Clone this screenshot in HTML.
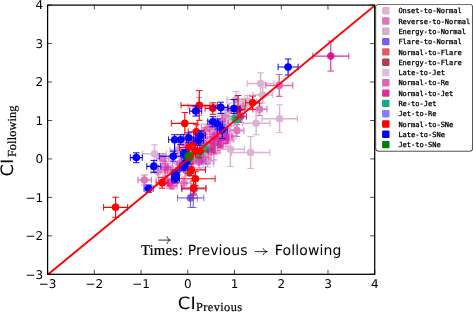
<!DOCTYPE html>
<html><head><meta charset="utf-8"><title>CI Previous vs Following</title>
<style>
html,body{margin:0;padding:0;background:#fff;}
body{width:473px;height:312px;overflow:hidden;}
svg{display:block;text-rendering:geometricPrecision;}
</style></head><body>
<svg width="473" height="312" viewBox="0 0 473 312">
<defs><clipPath id="axclip"><rect x="47.6" y="5.1" width="327.10" height="269.20"/></clipPath></defs>
<rect width="473" height="312" fill="#fff"/>
<g>
<g stroke="rgba(215,30,160,.5)" fill="none"><path d="M188.0 106.5H210.0M199.0 97.5V115.5" stroke-width="1.3"/><path d="M188.0 103.2v6.6M210.0 103.2v6.6M195.7 97.5h6.6M195.7 115.5h6.6" stroke-width="1.05"/><circle cx="199.0" cy="106.5" r="3.8" stroke="none" fill="rgba(215,30,160,.5)"/></g>
<g stroke="rgba(180,90,160,.46)" fill="none"><path d="M227.0 99.5H245.0M236.0 91.5V107.5" stroke-width="1.3"/><path d="M227.0 96.2v6.6M245.0 96.2v6.6M232.7 91.5h6.6M232.7 107.5h6.6" stroke-width="1.05"/><circle cx="236.0" cy="99.5" r="3.8" stroke="none" fill="rgba(180,90,160,.46)"/></g>
<g stroke="rgba(215,30,160,.5)" fill="none"><path d="M201.4 127.4H217.4M209.4 120.4V134.4" stroke-width="1.3"/><path d="M201.4 124.1v6.6M217.4 124.1v6.6M206.1 120.4h6.6M206.1 134.4h6.6" stroke-width="1.05"/><circle cx="209.4" cy="127.4" r="3.8" stroke="none" fill="rgba(215,30,160,.5)"/></g>
<g stroke="rgba(180,75,145,.47)" fill="none"><path d="M198.0 131.0H212.0M205.0 124.0V138.0" stroke-width="1.3"/><path d="M198.0 127.7v6.6M212.0 127.7v6.6M201.7 124.0h6.6M201.7 138.0h6.6" stroke-width="1.05"/><circle cx="205.0" cy="131.0" r="3.8" stroke="none" fill="rgba(180,75,145,.47)"/></g>
<g stroke="rgba(215,10,150,.5)" fill="none"><path d="M216.8 134.1H230.8M223.8 128.1V140.1" stroke-width="1.3"/><path d="M216.8 130.8v6.6M230.8 130.8v6.6M220.5 128.1h6.6M220.5 140.1h6.6" stroke-width="1.05"/><circle cx="223.8" cy="134.1" r="3.8" stroke="none" fill="rgba(215,10,150,.5)"/></g>
<g stroke="rgba(215,10,150,.5)" fill="none"><path d="M210.0 139.0H228.0M219.0 133.0V145.0" stroke-width="1.3"/><path d="M210.0 135.7v6.6M228.0 135.7v6.6M215.7 133.0h6.6M215.7 145.0h6.6" stroke-width="1.05"/><circle cx="219.0" cy="139.0" r="3.8" stroke="none" fill="rgba(215,10,150,.5)"/></g>
<g stroke="rgba(215,30,160,.5)" fill="none"><path d="M218.0 140.0H234.0M226.0 133.0V147.0" stroke-width="1.3"/><path d="M218.0 136.7v6.6M234.0 136.7v6.6M222.7 133.0h6.6M222.7 147.0h6.6" stroke-width="1.05"/><circle cx="226.0" cy="140.0" r="3.8" stroke="none" fill="rgba(215,30,160,.5)"/></g>
<g stroke="rgba(215,10,150,.5)" fill="none"><path d="M207.0 137.0H221.0M214.0 129.0V145.0" stroke-width="1.3"/><path d="M207.0 133.7v6.6M221.0 133.7v6.6M210.7 129.0h6.6M210.7 145.0h6.6" stroke-width="1.05"/><circle cx="214.0" cy="137.0" r="3.8" stroke="none" fill="rgba(215,10,150,.5)"/></g>
<g stroke="rgba(215,30,160,.5)" fill="none"><path d="M224.0 136.0H236.0M230.0 130.0V142.0" stroke-width="1.3"/><path d="M224.0 132.7v6.6M236.0 132.7v6.6M226.7 130.0h6.6M226.7 142.0h6.6" stroke-width="1.05"/><circle cx="230.0" cy="136.0" r="3.8" stroke="none" fill="rgba(215,30,160,.5)"/></g>
<g stroke="rgba(215,30,160,.5)" fill="none"><path d="M210.0 133.0H222.0M216.0 128.0V138.0" stroke-width="1.3"/><path d="M210.0 129.7v6.6M222.0 129.7v6.6M212.7 128.0h6.6M212.7 138.0h6.6" stroke-width="1.05"/><circle cx="216.0" cy="133.0" r="3.8" stroke="none" fill="rgba(215,30,160,.5)"/></g>
<g stroke="rgba(215,10,150,.5)" fill="none"><path d="M214.0 143.5H228.0M221.0 138.5V148.5" stroke-width="1.3"/><path d="M214.0 140.2v6.6M228.0 140.2v6.6M217.7 138.5h6.6M217.7 148.5h6.6" stroke-width="1.05"/><circle cx="221.0" cy="143.5" r="3.8" stroke="none" fill="rgba(215,10,150,.5)"/></g>
<g stroke="rgba(215,30,160,.5)" fill="none"><path d="M222.0 137.5H232.0M227.0 131.5V143.5" stroke-width="1.3"/><path d="M222.0 134.2v6.6M232.0 134.2v6.6M223.7 131.5h6.6M223.7 143.5h6.6" stroke-width="1.05"/><circle cx="227.0" cy="137.5" r="3.8" stroke="none" fill="rgba(215,30,160,.5)"/></g>
<g stroke="rgba(215,30,160,.5)" fill="none"><path d="M206.0 142.0H218.0M212.0 136.0V148.0" stroke-width="1.3"/><path d="M206.0 138.7v6.6M218.0 138.7v6.6M208.7 136.0h6.6M208.7 148.0h6.6" stroke-width="1.05"/><circle cx="212.0" cy="142.0" r="3.8" stroke="none" fill="rgba(215,30,160,.5)"/></g>
<g stroke="rgba(215,10,150,.5)" fill="none"><path d="M213.0 147.0H223.0M218.0 141.0V153.0" stroke-width="1.3"/><path d="M213.0 143.7v6.6M223.0 143.7v6.6M214.7 141.0h6.6M214.7 153.0h6.6" stroke-width="1.05"/><circle cx="218.0" cy="147.0" r="3.8" stroke="none" fill="rgba(215,10,150,.5)"/></g>
<g stroke="rgba(214,0,137,.82)" fill="none"><path d="M234.5 116.5H246.5M240.5 110.5V122.5" stroke-width="1.3"/><path d="M234.5 113.2v6.6M246.5 113.2v6.6M237.2 110.5h6.6M237.2 122.5h6.6" stroke-width="1.05"/><circle cx="240.5" cy="116.5" r="3.8" stroke="none" fill="rgba(214,0,137,.82)"/></g>
<g stroke="rgba(180,90,160,.46)" fill="none"><path d="M221.0 126.0H235.0M228.0 119.0V133.0" stroke-width="1.3"/><path d="M221.0 122.7v6.6M235.0 122.7v6.6M224.7 119.0h6.6M224.7 133.0h6.6" stroke-width="1.05"/><circle cx="228.0" cy="126.0" r="3.8" stroke="none" fill="rgba(180,90,160,.46)"/></g>
<g stroke="rgba(215,30,160,.5)" fill="none"><path d="M203.0 148.0H213.0M208.0 138.0V158.0" stroke-width="1.3"/><path d="M203.0 144.7v6.6M213.0 144.7v6.6M204.7 138.0h6.6M204.7 158.0h6.6" stroke-width="1.05"/><circle cx="208.0" cy="148.0" r="3.8" stroke="none" fill="rgba(215,30,160,.5)"/></g>
<g stroke="rgba(215,10,150,.5)" fill="none"><path d="M206.0 152.0H216.0M211.0 143.0V161.0" stroke-width="1.3"/><path d="M206.0 148.7v6.6M216.0 148.7v6.6M207.7 143.0h6.6M207.7 161.0h6.6" stroke-width="1.05"/><circle cx="211.0" cy="152.0" r="3.8" stroke="none" fill="rgba(215,10,150,.5)"/></g>
<g stroke="rgba(215,10,150,.5)" fill="none"><path d="M208.0 150.0H220.0M214.0 140.0V160.0" stroke-width="1.3"/><path d="M208.0 146.7v6.6M220.0 146.7v6.6M210.7 140.0h6.6M210.7 160.0h6.6" stroke-width="1.05"/><circle cx="214.0" cy="150.0" r="3.8" stroke="none" fill="rgba(215,10,150,.5)"/></g>
<g stroke="rgba(180,75,145,.47)" fill="none"><path d="M210.0 146.0H222.0M216.0 138.0V154.0" stroke-width="1.3"/><path d="M210.0 142.7v6.6M222.0 142.7v6.6M212.7 138.0h6.6M212.7 154.0h6.6" stroke-width="1.05"/><circle cx="216.0" cy="146.0" r="3.8" stroke="none" fill="rgba(180,75,145,.47)"/></g>
<g stroke="#DBA0CB" fill="none"><path d="M201.5 161.0H213.5M207.5 155.0V167.0" stroke-width="1.3"/><path d="M201.5 157.7v6.6M213.5 157.7v6.6M204.2 155.0h6.6M204.2 167.0h6.6" stroke-width="1.05"/><circle cx="207.5" cy="161.0" r="3.8" stroke="none" fill="#DBA0CB"/></g>
<g stroke="rgba(215,30,160,.5)" fill="none"><path d="M197.0 157.0H209.0M203.0 150.0V164.0" stroke-width="1.3"/><path d="M197.0 153.7v6.6M209.0 153.7v6.6M199.7 150.0h6.6M199.7 164.0h6.6" stroke-width="1.05"/><circle cx="203.0" cy="157.0" r="3.8" stroke="none" fill="rgba(215,30,160,.5)"/></g>
<g stroke="rgba(215,10,150,.5)" fill="none"><path d="M192.0 162.0H206.0M199.0 156.0V168.0" stroke-width="1.3"/><path d="M192.0 158.7v6.6M206.0 158.7v6.6M195.7 156.0h6.6M195.7 168.0h6.6" stroke-width="1.05"/><circle cx="199.0" cy="162.0" r="3.8" stroke="none" fill="rgba(215,10,150,.5)"/></g>
<g stroke="rgba(215,30,160,.5)" fill="none"><path d="M196.0 143.0H212.0M204.0 136.0V150.0" stroke-width="1.3"/><path d="M196.0 139.7v6.6M212.0 139.7v6.6M200.7 136.0h6.6M200.7 150.0h6.6" stroke-width="1.05"/><circle cx="204.0" cy="143.0" r="3.8" stroke="none" fill="rgba(215,30,160,.5)"/></g>
<g stroke="rgba(215,30,160,.5)" fill="none"><path d="M185.0 160.0H201.0M193.0 153.0V167.0" stroke-width="1.3"/><path d="M185.0 156.7v6.6M201.0 156.7v6.6M189.7 153.0h6.6M189.7 167.0h6.6" stroke-width="1.05"/><circle cx="193.0" cy="160.0" r="3.8" stroke="none" fill="rgba(215,30,160,.5)"/></g>
<g stroke="rgba(215,10,150,.5)" fill="none"><path d="M172.0 163.0H188.0M180.0 156.0V170.0" stroke-width="1.3"/><path d="M172.0 159.7v6.6M188.0 159.7v6.6M176.7 156.0h6.6M176.7 170.0h6.6" stroke-width="1.05"/><circle cx="180.0" cy="163.0" r="3.8" stroke="none" fill="rgba(215,10,150,.5)"/></g>
<g stroke="rgba(180,75,145,.47)" fill="none"><path d="M170.0 150.0H186.0M178.0 142.0V158.0" stroke-width="1.3"/><path d="M170.0 146.7v6.6M186.0 146.7v6.6M174.7 142.0h6.6M174.7 158.0h6.6" stroke-width="1.05"/><circle cx="178.0" cy="150.0" r="3.8" stroke="none" fill="rgba(180,75,145,.47)"/></g>
<g stroke="rgba(215,30,160,.5)" fill="none"><path d="M179.0 145.0H193.0M186.0 137.0V153.0" stroke-width="1.3"/><path d="M179.0 141.7v6.6M193.0 141.7v6.6M182.7 137.0h6.6M182.7 153.0h6.6" stroke-width="1.05"/><circle cx="186.0" cy="145.0" r="3.8" stroke="none" fill="rgba(215,30,160,.5)"/></g>
<g stroke="rgba(180,90,160,.46)" fill="none"><path d="M217.0 116.0H233.0M225.0 109.0V123.0" stroke-width="1.3"/><path d="M217.0 112.7v6.6M233.0 112.7v6.6M221.7 109.0h6.6M221.7 123.0h6.6" stroke-width="1.05"/><circle cx="225.0" cy="116.0" r="3.8" stroke="none" fill="rgba(180,90,160,.46)"/></g>
<g stroke="rgba(215,30,160,.5)" fill="none"><path d="M215.0 121.0H229.0M222.0 114.0V128.0" stroke-width="1.3"/><path d="M215.0 117.7v6.6M229.0 117.7v6.6M218.7 114.0h6.6M218.7 128.0h6.6" stroke-width="1.05"/><circle cx="222.0" cy="121.0" r="3.8" stroke="none" fill="rgba(215,30,160,.5)"/></g>
<g stroke="rgba(215,30,160,.5)" fill="none"><path d="M158.5 180.0H172.5M165.5 175.0V185.0" stroke-width="1.3"/><path d="M158.5 176.7v6.6M172.5 176.7v6.6M162.2 175.0h6.6M162.2 185.0h6.6" stroke-width="1.05"/><circle cx="165.5" cy="180.0" r="3.8" stroke="none" fill="rgba(215,30,160,.5)"/></g>
<g stroke="rgba(215,10,150,.5)" fill="none"><path d="M164.0 183.0H176.0M170.0 178.0V188.0" stroke-width="1.3"/><path d="M164.0 179.7v6.6M176.0 179.7v6.6M166.7 178.0h6.6M166.7 188.0h6.6" stroke-width="1.05"/><circle cx="170.0" cy="183.0" r="3.8" stroke="none" fill="rgba(215,10,150,.5)"/></g>
<g stroke="rgba(215,30,160,.5)" fill="none"><path d="M167.0 186.0H177.0M172.0 183.0V189.0" stroke-width="1.3"/><path d="M167.0 182.7v6.6M177.0 182.7v6.6M168.7 183.0h6.6M168.7 189.0h6.6" stroke-width="1.05"/><circle cx="172.0" cy="186.0" r="3.8" stroke="none" fill="rgba(215,30,160,.5)"/></g>
<g stroke="rgba(215,30,160,.5)" fill="none"><path d="M177.0 183.0H191.0M184.0 177.0V189.0" stroke-width="1.3"/><path d="M177.0 179.7v6.6M191.0 179.7v6.6M180.7 177.0h6.6M180.7 189.0h6.6" stroke-width="1.05"/><circle cx="184.0" cy="183.0" r="3.8" stroke="none" fill="rgba(215,30,160,.5)"/></g>
<g stroke="rgba(180,75,145,.47)" fill="none"><path d="M151.0 172.0H165.0M158.0 166.0V178.0" stroke-width="1.3"/><path d="M151.0 168.7v6.6M165.0 168.7v6.6M154.7 166.0h6.6M154.7 178.0h6.6" stroke-width="1.05"/><circle cx="158.0" cy="172.0" r="3.8" stroke="none" fill="rgba(180,75,145,.47)"/></g>
<g stroke="rgba(180,75,145,.47)" fill="none"><path d="M235.0 106.0H251.0M243.0 99.0V113.0" stroke-width="1.3"/><path d="M235.0 102.7v6.6M251.0 102.7v6.6M239.7 99.0h6.6M239.7 113.0h6.6" stroke-width="1.05"/><circle cx="243.0" cy="106.0" r="3.8" stroke="none" fill="rgba(180,75,145,.47)"/></g>
<g stroke="rgba(180,90,160,.46)" fill="none"><path d="M222.0 110.0H236.0M229.0 103.0V117.0" stroke-width="1.3"/><path d="M222.0 106.7v6.6M236.0 106.7v6.6M225.7 103.0h6.6M225.7 117.0h6.6" stroke-width="1.05"/><circle cx="229.0" cy="110.0" r="3.8" stroke="none" fill="rgba(180,90,160,.46)"/></g>
<g stroke="#DDB3D3" fill="none"><path d="M142.5 153.8H166.5M154.5 144.8V162.8" stroke-width="1.45"/><path d="M142.5 150.5v6.6M166.5 150.5v6.6M151.2 144.8h6.6M151.2 162.8h6.6" stroke-width="1.15"/><circle cx="154.5" cy="153.8" r="3.8" stroke="none" fill="#DDB3D3"/></g>
<g stroke="#DD74BD" fill="none"><path d="M137.9 180.0H151.4M144.4 175.0V185.0" stroke-width="1.45"/><path d="M137.9 176.7v6.6M151.4 176.7v6.6M141.1 175.0h6.6M141.1 185.0h6.6" stroke-width="1.15"/><circle cx="144.4" cy="180.0" r="3.8" stroke="none" fill="#DD74BD"/></g>
<g stroke="#DDB3D3" fill="none"><path d="M247.2 83.5H274.0M260.6 72.8V94.2" stroke-width="1.45"/><path d="M247.2 80.2v6.6M274.0 80.2v6.6M257.3 72.8h6.6M257.3 94.2h6.6" stroke-width="1.15"/><circle cx="260.6" cy="83.5" r="3.8" stroke="none" fill="#DDB3D3"/></g>
<g stroke="#DD66B5" fill="none"><path d="M265.7 85.4H292.7M279.2 74.5V96.3" stroke-width="1.45"/><path d="M265.7 82.1v6.6M292.7 82.1v6.6M275.9 74.5h6.6M275.9 96.3h6.6" stroke-width="1.15"/><circle cx="279.2" cy="85.4" r="3.8" stroke="none" fill="#DD66B5"/></g>
<g stroke="#DDB3D3" fill="none"><path d="M252.8 95.0H272.8M262.8 87.0V103.0" stroke-width="1.45"/><path d="M252.8 91.7v6.6M272.8 91.7v6.6M259.5 87.0h6.6M259.5 103.0h6.6" stroke-width="1.15"/><circle cx="262.8" cy="95.0" r="3.8" stroke="none" fill="#DDB3D3"/></g>
<g stroke="#DDB3D3" fill="none"><path d="M238.7 101.3H256.7M247.7 95.3V109.3" stroke-width="1.45"/><path d="M238.7 98.0v6.6M256.7 98.0v6.6M244.4 95.3h6.6M244.4 109.3h6.6" stroke-width="1.15"/><circle cx="247.7" cy="101.3" r="3.8" stroke="none" fill="#DDB3D3"/></g>
<g stroke="#DD74BD" fill="none"><path d="M252.5 109.2H267.0M259.5 103.2V115.5" stroke-width="1.45"/><path d="M252.5 105.9v6.6M267.0 105.9v6.6M256.2 103.2h6.6M256.2 115.5h6.6" stroke-width="1.15"/><circle cx="259.5" cy="109.2" r="3.8" stroke="none" fill="#DD74BD"/></g>
<g stroke="#DDB3D3" fill="none"><path d="M262.1 118.7H297.4M279.6 104.7V132.5" stroke-width="1.45"/><path d="M262.1 115.4v6.6M297.4 115.4v6.6M276.3 104.7h6.6M276.3 132.5h6.6" stroke-width="1.15"/><circle cx="279.6" cy="118.7" r="3.8" stroke="none" fill="#DDB3D3"/></g>
<g stroke="#DDB3D3" fill="none"><path d="M242.4 123.2H269.9M256.1 111.7V134.7" stroke-width="1.45"/><path d="M242.4 119.9v6.6M269.9 119.9v6.6M252.8 111.7h6.6M252.8 134.7h6.6" stroke-width="1.15"/><circle cx="256.1" cy="123.2" r="3.8" stroke="none" fill="#DDB3D3"/></g>
<g stroke="#DD74BD" fill="none"><path d="M229.9 130.5H243.9M236.9 124.5V136.5" stroke-width="1.45"/><path d="M229.9 127.2v6.6M243.9 127.2v6.6M233.6 124.5h6.6M233.6 136.5h6.6" stroke-width="1.15"/><circle cx="236.9" cy="130.5" r="3.8" stroke="none" fill="#DD74BD"/></g>
<g stroke="#DDB3D3" fill="none"><path d="M216.4 149.3H244.4M230.4 132.3V166.5" stroke-width="1.45"/><path d="M216.4 146.0v6.6M244.4 146.0v6.6M227.1 132.3h6.6M227.1 166.5h6.6" stroke-width="1.15"/><circle cx="230.4" cy="149.3" r="3.8" stroke="none" fill="#DDB3D3"/></g>
<g stroke="#DDB3D3" fill="none"><path d="M231.6 152.5H269.9M250.6 136.5V168.5" stroke-width="1.45"/><path d="M231.6 149.2v6.6M269.9 149.2v6.6M247.3 136.5h6.6M247.3 168.5h6.6" stroke-width="1.15"/><circle cx="250.6" cy="152.5" r="3.8" stroke="none" fill="#DDB3D3"/></g>
<g stroke="#DD74BD" fill="none"><path d="M156.9 158.7H168.9M162.9 153.7V163.7" stroke-width="1.3"/><path d="M156.9 155.4v6.6M168.9 155.4v6.6M159.6 153.7h6.6M159.6 163.7h6.6" stroke-width="1.05"/><rect x="159.2" y="155.0" width="7.4" height="7.4" rx="1.2" stroke="none" fill="#DD74BD"/></g>
<g stroke="rgba(215,30,160,.5)" fill="none"><path d="M158.4 167.2H172.4M165.4 161.2V173.2" stroke-width="1.3"/><path d="M158.4 163.9v6.6M172.4 163.9v6.6M162.1 161.2h6.6M162.1 173.2h6.6" stroke-width="1.05"/><rect x="161.7" y="163.5" width="7.4" height="7.4" rx="1.2" stroke="none" fill="rgba(215,30,160,.5)"/></g>
<g stroke="rgba(215,30,160,.5)" fill="none"><path d="M161.6 169.3H173.6M167.6 163.3V175.3" stroke-width="1.3"/><path d="M161.6 166.0v6.6M173.6 166.0v6.6M164.3 163.3h6.6M164.3 175.3h6.6" stroke-width="1.05"/><rect x="163.9" y="165.6" width="7.4" height="7.4" rx="1.2" stroke="none" fill="rgba(215,30,160,.5)"/></g>
<g stroke="#12A985" fill="none"><path d="M231.0 119.0H241.0M236.0 115.0V123.0" stroke-width="1.15"/><path d="M231.0 115.7v6.6M241.0 115.7v6.6M232.7 115.0h6.6M232.7 123.0h6.6" stroke-width="0.95"/><rect x="232.1" y="115.1" width="7.8" height="7.8" rx="1.2" stroke="none" fill="#12A985"/></g>
<g stroke="#12A985" fill="none"><path d="M199.4 148.9H209.4M204.4 144.9V152.9" stroke-width="1.15"/><path d="M199.4 145.6v6.6M209.4 145.6v6.6M201.1 144.9h6.6M201.1 152.9h6.6" stroke-width="0.95"/><circle cx="204.4" cy="148.9" r="3.8" stroke="none" fill="#12A985"/></g>
<g stroke="#12A985" fill="none"><path d="M193.3 154.6H203.3M198.3 150.6V158.6" stroke-width="1.15"/><path d="M193.3 151.3v6.6M203.3 151.3v6.6M195.0 150.6h6.6M195.0 158.6h6.6" stroke-width="0.95"/><circle cx="198.3" cy="154.6" r="3.8" stroke="none" fill="#12A985"/></g>
<g stroke="#12A985" fill="none"><path d="M183.0 160.0H191.0M187.0 156.0V164.0" stroke-width="1.15"/><path d="M183.0 156.7v6.6M191.0 156.7v6.6M183.7 156.0h6.6M183.7 164.0h6.6" stroke-width="0.95"/><circle cx="187.0" cy="160.0" r="3.8" stroke="none" fill="#12A985"/></g>
<g stroke="rgba(90,50,225,.72)" fill="none"><path d="M177.5 197.9H203.8M190.5 188.9V207.4" stroke-width="1.15"/><path d="M177.5 194.6v6.6M203.8 194.6v6.6M187.2 188.9h6.6M187.2 207.4h6.6" stroke-width="0.95"/><circle cx="190.5" cy="197.9" r="3.8" stroke="none" fill="rgba(90,50,225,.72)"/></g>
<g stroke="rgba(90,50,225,.72)" fill="none"><path d="M189.3 198.2H197.3M193.3 193.2V207.5" stroke-width="1.15"/><path d="M189.3 194.9v6.6M197.3 194.9v6.6M190.0 193.2h6.6M190.0 207.5h6.6" stroke-width="0.95"/><circle cx="193.3" cy="198.2" r="0" stroke="none" fill="rgba(90,50,225,.72)"/></g>
<g stroke="rgba(90,50,225,.72)" fill="none"><path d="M182.0 189.0H206.0M194.0 184.0V194.0" stroke-width="1.15"/><path d="M182.0 185.7v6.6M206.0 185.7v6.6M190.7 184.0h6.6M190.7 194.0h6.6" stroke-width="0.95"/><circle cx="194.0" cy="189.0" r="3.8" stroke="none" fill="rgba(90,50,225,.72)"/></g>
<g stroke="rgba(100,80,255,.45)" fill="none"><path d="M192.0 164.0H214.0M203.0 160.0V168.0" stroke-width="1.15"/><path d="M192.0 160.7v6.6M214.0 160.7v6.6M199.7 160.0h6.6M199.7 168.0h6.6" stroke-width="0.95"/><circle cx="203.0" cy="164.0" r="0" stroke="none" fill="rgba(100,80,255,.45)"/></g>
<g stroke="rgba(165,30,40,.85)" fill="none"><path d="M185.0 173.3H194.0M189.5 171.0V175.6" stroke-width="1.15"/><path d="M185.0 170.0v6.6M194.0 170.0v6.6M186.2 171.0h6.6M186.2 175.6h6.6" stroke-width="0.95"/><circle cx="189.5" cy="173.3" r="3.2" stroke="none" fill="rgba(165,30,40,.85)"/></g>
<g stroke="rgba(215,30,30,.72)" fill="none"><path d="M171.0 170.0H185.0M178.0 165.0V175.0" stroke-width="1.15"/><path d="M171.0 166.7v6.6M185.0 166.7v6.6M174.7 165.0h6.6M174.7 175.0h6.6" stroke-width="0.95"/><circle cx="178.0" cy="170.0" r="3.8" stroke="none" fill="rgba(215,30,30,.72)"/></g>
<g stroke="rgba(214,0,137,.82)" fill="none"><path d="M312.8 56.1H348.8M330.8 41.1V71.1" stroke-width="1.15"/><path d="M312.8 52.8v6.6M348.8 52.8v6.6M327.5 41.1h6.6M327.5 71.1h6.6" stroke-width="0.95"/><circle cx="330.8" cy="56.1" r="3.8" stroke="none" fill="rgba(214,0,137,.82)"/></g>
<g stroke="#FF0000" fill="none"><path d="M103.6 207.3H127.6M115.6 197.3V217.3" stroke-width="1.15"/><path d="M103.6 204.0v6.6M127.6 204.0v6.6M112.3 197.3h6.6M112.3 217.3h6.6" stroke-width="0.95"/><circle cx="115.6" cy="207.3" r="3.8" stroke="none" fill="#FF0000"/></g>
<g stroke="#FF0000" fill="none"><path d="M156.1 182.7H168.1M162.1 177.2V188.2" stroke-width="1.15"/><path d="M156.1 179.4v6.6M168.1 179.4v6.6M158.8 177.2h6.6M158.8 188.2h6.6" stroke-width="0.95"/><circle cx="162.1" cy="182.7" r="3.8" stroke="none" fill="#FF0000"/></g>
<g stroke="#FF0000" fill="none"><path d="M181.0 105.3H217.3M199.3 90.6V120.3" stroke-width="1.15"/><path d="M181.0 102.0v6.6M217.3 102.0v6.6M196.0 90.6h6.6M196.0 120.3h6.6" stroke-width="0.95"/><circle cx="199.3" cy="105.3" r="3.8" stroke="none" fill="#FF0000"/></g>
<g stroke="#FF0000" fill="none"><path d="M205.1 108.3H220.8M212.8 102.8V114.3" stroke-width="1.15"/><path d="M205.1 105.0v6.6M220.8 105.0v6.6M209.5 102.8h6.6M209.5 114.3h6.6" stroke-width="0.95"/><circle cx="212.8" cy="108.3" r="3.8" stroke="none" fill="#FF0000"/></g>
<g stroke="#FF0000" fill="none"><path d="M171.3 123.4H197.8M184.8 112.5V134.4" stroke-width="1.15"/><path d="M171.3 120.1v6.6M197.8 120.1v6.6M181.5 112.5h6.6M181.5 134.4h6.6" stroke-width="0.95"/><circle cx="184.8" cy="123.4" r="3.8" stroke="none" fill="#FF0000"/></g>
<g stroke="#FF0000" fill="none"><path d="M188.2 131.7H204.2M196.2 124.7V138.7" stroke-width="1.15"/><path d="M188.2 128.4v6.6M204.2 128.4v6.6M192.9 124.7h6.6M192.9 138.7h6.6" stroke-width="0.95"/><circle cx="196.2" cy="131.7" r="3.8" stroke="none" fill="#FF0000"/></g>
<g stroke="#FF0000" fill="none"><path d="M179.6 147.6H197.6M188.6 139.6V155.6" stroke-width="1.15"/><path d="M179.6 144.3v6.6M197.6 144.3v6.6M185.3 139.6h6.6M185.3 155.6h6.6" stroke-width="0.95"/><circle cx="188.6" cy="147.6" r="3.8" stroke="none" fill="#FF0000"/></g>
<g stroke="#FF0000" fill="none"><path d="M192.0 151.0H208.0M200.0 144.0V158.0" stroke-width="1.15"/><path d="M192.0 147.7v6.6M208.0 147.7v6.6M196.7 144.0h6.6M196.7 158.0h6.6" stroke-width="0.95"/><circle cx="200.0" cy="151.0" r="3.8" stroke="none" fill="#FF0000"/></g>
<g stroke="#FF0000" fill="none"><path d="M189.5 151.0H201.5M195.5 145.0V157.0" stroke-width="1.15"/><path d="M189.5 147.7v6.6M201.5 147.7v6.6M192.2 145.0h6.6M192.2 157.0h6.6" stroke-width="0.95"/><circle cx="195.5" cy="151.0" r="3.8" stroke="none" fill="#FF0000"/></g>
<g stroke="#FF0000" fill="none"><path d="M183.2 169.8H205.5M191.2 163.8V175.8" stroke-width="1.15"/><path d="M183.2 166.5v6.6M205.5 166.5v6.6M187.9 163.8h6.6M187.9 175.8h6.6" stroke-width="0.95"/><circle cx="191.2" cy="169.8" r="3.8" stroke="none" fill="#FF0000"/></g>
<g stroke="#FF0000" fill="none"><path d="M179.4 178.7H215.1M195.4 171.7V185.7" stroke-width="1.15"/><path d="M179.4 175.4v6.6M215.1 175.4v6.6M192.1 171.7h6.6M192.1 185.7h6.6" stroke-width="0.95"/><circle cx="195.4" cy="178.7" r="3.8" stroke="none" fill="#FF0000"/></g>
<g stroke="#FF0000" fill="none"><path d="M181.6 188.1H206.0M193.6 181.1V195.1" stroke-width="1.15"/><path d="M181.6 184.8v6.6M206.0 184.8v6.6M190.3 181.1h6.6M190.3 195.1h6.6" stroke-width="0.95"/><circle cx="193.6" cy="188.1" r="3.8" stroke="none" fill="#FF0000"/></g>
<g stroke="#FF0000" fill="none"><path d="M231.0 109.5H245.0M238.0 95.5V117.5" stroke-width="1.15"/><path d="M231.0 106.2v6.6M245.0 106.2v6.6M234.7 95.5h6.6M234.7 117.5h6.6" stroke-width="0.95"/><circle cx="238.0" cy="109.5" r="3.8" stroke="none" fill="#FF0000"/></g>
<g stroke="#FF0000" fill="none"><path d="M245.6 102.7H259.6M252.6 96.1V109.7" stroke-width="1.15"/><path d="M245.6 99.4v6.6M259.6 99.4v6.6M249.3 96.1h6.6M249.3 109.7h6.6" stroke-width="0.95"/><circle cx="252.6" cy="102.7" r="3.8" stroke="none" fill="#FF0000"/></g>
<g stroke="#FF0000" fill="none"><path d="M188.0 143.0H200.0M194.0 137.0V149.0" stroke-width="1.15"/><path d="M188.0 139.7v6.6M200.0 139.7v6.6M190.7 137.0h6.6M190.7 149.0h6.6" stroke-width="0.95"/><circle cx="194.0" cy="143.0" r="3.8" stroke="none" fill="#FF0000"/></g>
<g stroke="#0000FF" fill="none"><path d="M130.3 157.6H142.3M136.3 152.8V162.7" stroke-width="1.15"/><path d="M130.3 154.3v6.6M142.3 154.3v6.6M133.0 152.8h6.6M133.0 162.7h6.6" stroke-width="0.95"/><circle cx="136.3" cy="157.6" r="3.8" stroke="none" fill="#0000FF"/></g>
<g stroke="#0000FF" fill="none"><path d="M146.8 166.4H160.8M153.8 160.4V172.4" stroke-width="1.15"/><path d="M146.8 163.1v6.6M160.8 163.1v6.6M150.5 160.4h6.6M150.5 172.4h6.6" stroke-width="0.95"/><circle cx="153.8" cy="166.4" r="3.8" stroke="none" fill="#0000FF"/></g>
<g stroke="#0000FF" fill="none"><path d="M159.2 156.2H181.2M173.2 151.2V161.2" stroke-width="1.15"/><path d="M159.2 152.9v6.6M181.2 152.9v6.6M169.9 151.2h6.6M169.9 161.2h6.6" stroke-width="0.95"/><circle cx="173.2" cy="156.2" r="3.8" stroke="none" fill="#0000FF"/></g>
<g stroke="#0000FF" fill="none"><path d="M144.1 188.5H153.1M148.6 185.0V192.3" stroke-width="1.15"/><path d="M144.1 185.2v6.6M153.1 185.2v6.6M145.3 185.0h6.6M145.3 192.3h6.6" stroke-width="0.95"/><circle cx="148.6" cy="188.5" r="3.8" stroke="none" fill="#0000FF"/></g>
<g stroke="#0000FF" fill="none"><path d="M189.7 111.1H201.7M195.7 106.1V116.1" stroke-width="1.15"/><path d="M189.7 107.8v6.6M201.7 107.8v6.6M192.4 106.1h6.6M192.4 116.1h6.6" stroke-width="0.95"/><circle cx="195.7" cy="111.1" r="3.8" stroke="none" fill="#0000FF"/></g>
<g stroke="#0000FF" fill="none"><path d="M213.8 107.4H227.8M220.8 102.2V113.4" stroke-width="1.15"/><path d="M213.8 104.1v6.6M227.8 104.1v6.6M217.5 102.2h6.6M217.5 113.4h6.6" stroke-width="0.95"/><circle cx="220.8" cy="107.4" r="3.8" stroke="none" fill="#0000FF"/></g>
<g stroke="#0000FF" fill="none"><path d="M228.0 108.5H240.0M234.0 99.5V113.5" stroke-width="1.15"/><path d="M228.0 105.2v6.6M240.0 105.2v6.6M230.7 99.5h6.6M230.7 113.5h6.6" stroke-width="0.95"/><circle cx="234.0" cy="108.5" r="3.8" stroke="none" fill="#0000FF"/></g>
<g stroke="#0000FF" fill="none"><path d="M207.8 121.7H217.8M212.8 116.7V126.7" stroke-width="1.15"/><path d="M207.8 118.4v6.6M217.8 118.4v6.6M209.5 116.7h6.6M209.5 126.7h6.6" stroke-width="0.95"/><circle cx="212.8" cy="121.7" r="3.8" stroke="none" fill="#0000FF"/></g>
<g stroke="#0000FF" fill="none"><path d="M212.6 124.0H222.6M217.6 119.0V129.0" stroke-width="1.15"/><path d="M212.6 120.7v6.6M222.6 120.7v6.6M214.3 119.0h6.6M214.3 129.0h6.6" stroke-width="0.95"/><circle cx="217.6" cy="124.0" r="3.8" stroke="none" fill="#0000FF"/></g>
<g stroke="#0000FF" fill="none"><path d="M217.3 129.9H227.3M222.3 124.9V138.5" stroke-width="1.15"/><path d="M217.3 126.6v6.6M227.3 126.6v6.6M219.0 124.9h6.6M219.0 138.5h6.6" stroke-width="0.95"/><circle cx="222.3" cy="129.9" r="3.8" stroke="none" fill="#0000FF"/></g>
<g stroke="#0000FF" fill="none"><path d="M195.5 135.7H205.5M200.5 130.7V140.7" stroke-width="1.15"/><path d="M195.5 132.4v6.6M205.5 132.4v6.6M197.2 130.7h6.6M197.2 140.7h6.6" stroke-width="0.95"/><circle cx="200.5" cy="135.7" r="3.8" stroke="none" fill="#0000FF"/></g>
<g stroke="#0000FF" fill="none"><path d="M193.6 140.6H203.6M198.6 135.6V145.6" stroke-width="1.15"/><path d="M193.6 137.3v6.6M203.6 137.3v6.6M195.3 135.6h6.6M195.3 145.6h6.6" stroke-width="0.95"/><circle cx="198.6" cy="140.6" r="3.8" stroke="none" fill="#0000FF"/></g>
<g stroke="#0000FF" fill="none"><path d="M168.6 139.7H180.6M174.6 134.7V153.7" stroke-width="1.15"/><path d="M168.6 136.4v6.6M180.6 136.4v6.6M171.3 134.7h6.6M171.3 153.7h6.6" stroke-width="0.95"/><circle cx="174.6" cy="139.7" r="3.8" stroke="none" fill="#0000FF"/></g>
<g stroke="#0000FF" fill="none"><path d="M174.7 139.7H186.7M180.7 134.7V144.7" stroke-width="1.15"/><path d="M174.7 136.4v6.6M186.7 136.4v6.6M177.4 134.7h6.6M177.4 144.7h6.6" stroke-width="0.95"/><circle cx="180.7" cy="139.7" r="3.8" stroke="none" fill="#0000FF"/></g>
<g stroke="#0000FF" fill="none"><path d="M183.8 137.8H193.8M188.8 132.8V142.8" stroke-width="1.15"/><path d="M183.8 134.5v6.6M193.8 134.5v6.6M185.5 132.8h6.6M185.5 142.8h6.6" stroke-width="0.95"/><circle cx="188.8" cy="137.8" r="3.8" stroke="none" fill="#0000FF"/></g>
<g stroke="#0000FF" fill="none"><path d="M180.3 153.6H188.3M184.3 149.6V157.6" stroke-width="1.15"/><path d="M180.3 150.3v6.6M188.3 150.3v6.6M181.0 149.6h6.6M181.0 157.6h6.6" stroke-width="0.95"/><circle cx="184.3" cy="153.6" r="3.8" stroke="none" fill="#0000FF"/></g>
<g stroke="#0000FF" fill="none"><path d="M179.5 166.8H187.5M183.5 162.8V170.8" stroke-width="1.15"/><path d="M179.5 163.5v6.6M187.5 163.5v6.6M180.2 162.8h6.6M180.2 170.8h6.6" stroke-width="0.95"/><circle cx="183.5" cy="166.8" r="3.8" stroke="none" fill="#0000FF"/></g>
<g stroke="#0000FF" fill="none"><path d="M182.0 162.5H190.0M186.0 158.5V166.5" stroke-width="1.15"/><path d="M182.0 159.2v6.6M190.0 159.2v6.6M182.7 158.5h6.6M182.7 166.5h6.6" stroke-width="0.95"/><circle cx="186.0" cy="162.5" r="3.8" stroke="none" fill="#0000FF"/></g>
<g stroke="#0000FF" fill="none"><path d="M171.3 174.2H179.3M175.3 170.2V178.2" stroke-width="1.15"/><path d="M171.3 170.9v6.6M179.3 170.9v6.6M172.0 170.2h6.6M172.0 178.2h6.6" stroke-width="0.95"/><circle cx="175.3" cy="174.2" r="3.8" stroke="none" fill="#0000FF"/></g>
<g stroke="#0000FF" fill="none"><path d="M171.5 178.8H179.5M175.5 174.8V182.8" stroke-width="1.15"/><path d="M171.5 175.5v6.6M179.5 175.5v6.6M172.2 174.8h6.6M172.2 182.8h6.6" stroke-width="0.95"/><circle cx="175.5" cy="178.8" r="3.8" stroke="none" fill="#0000FF"/></g>
<g stroke="#0000FF" fill="none"><path d="M278.1 67.0H298.1M288.1 59.0V75.0" stroke-width="1.15"/><path d="M278.1 63.7v6.6M298.1 63.7v6.6M284.8 59.0h6.6M284.8 75.0h6.6" stroke-width="0.95"/><circle cx="288.1" cy="67.0" r="3.8" stroke="none" fill="#0000FF"/></g>
<g stroke="#008000" fill="none"><path d="M185.0 156.7H193.0M189.0 152.7V160.7" stroke-width="1.15"/><path d="M185.0 153.4v6.6M193.0 153.4v6.6M185.7 152.7h6.6M185.7 160.7h6.6" stroke-width="0.95"/><circle cx="189.0" cy="156.7" r="4.3" stroke="none" fill="#008000"/></g>
</g>
<path d="M47.9 274.55L375.0 5.35" stroke="#FF0000" stroke-width="1.85" fill="none" clip-path="url(#axclip)"/><rect x="47.6" y="5.1" width="327.10" height="269.20" fill="none" stroke="#000" stroke-width="1.25"/><path d="M47.60 274.3v-4.5M47.60 5.1v4.5M47.6 274.30h4.5M374.7 274.30h-4.5M94.33 274.3v-4.5M94.33 5.1v4.5M47.6 235.84h4.5M374.7 235.84h-4.5M141.06 274.3v-4.5M141.06 5.1v4.5M47.6 197.39h4.5M374.7 197.39h-4.5M187.79 274.3v-4.5M187.79 5.1v4.5M47.6 158.93h4.5M374.7 158.93h-4.5M234.51 274.3v-4.5M234.51 5.1v4.5M47.6 120.47h4.5M374.7 120.47h-4.5M281.24 274.3v-4.5M281.24 5.1v4.5M47.6 82.01h4.5M374.7 82.01h-4.5M327.97 274.3v-4.5M327.97 5.1v4.5M47.6 43.56h4.5M374.7 43.56h-4.5M374.70 274.3v-4.5M374.70 5.1v4.5M47.6 5.10h4.5M374.7 5.10h-4.5" stroke="#000" stroke-width="0.7" fill="none"/><g font-family="'DejaVu Sans','Liberation Sans',sans-serif" font-size="12" fill="#000"><text x="47.6" y="288" text-anchor="middle">−3</text><text x="43.1" y="278.6" text-anchor="end">−3</text><text x="94.3" y="288" text-anchor="middle">−2</text><text x="43.1" y="240.1" text-anchor="end">−2</text><text x="141.1" y="288" text-anchor="middle">−1</text><text x="43.1" y="201.7" text-anchor="end">−1</text><text x="187.8" y="288" text-anchor="middle">0</text><text x="43.1" y="163.2" text-anchor="end">0</text><text x="234.5" y="288" text-anchor="middle">1</text><text x="43.1" y="124.8" text-anchor="end">1</text><text x="281.2" y="288" text-anchor="middle">2</text><text x="43.1" y="86.3" text-anchor="end">2</text><text x="328.0" y="288" text-anchor="middle">3</text><text x="43.1" y="47.9" text-anchor="end">3</text><text x="374.7" y="288" text-anchor="middle">4</text><text x="43.1" y="9.4" text-anchor="end">4</text></g><text transform="translate(177.8 308.5) scale(1.06 1)" font-family="'DejaVu Sans','Liberation Sans',sans-serif" font-size="17" fill="#000">CI</text><text x="195.9" y="311.3" font-family="'Liberation Serif','DejaVu Serif',serif" font-size="12.3" letter-spacing="0.45" fill="#000" stroke="#000" stroke-width="0.2">Previous</text><g transform="translate(13.3 176.5) rotate(-90)" fill="#000"><text transform="scale(1.06 1)" font-family="'DejaVu Sans','Liberation Sans',sans-serif" font-size="17">CI</text><text x="19.4" y="2.5" font-family="'Liberation Serif','DejaVu Serif',serif" font-size="12.3" letter-spacing="0.12" stroke="#000" stroke-width="0.2">Following</text></g><text x="140.9" y="255.3" font-family="'Liberation Serif','DejaVu Serif',serif" font-size="14.8" letter-spacing="0.15" fill="#000" stroke="#000" stroke-width="0.2">Times</text><text x="178.3" y="255.3" font-family="'DejaVu Sans','Liberation Sans',sans-serif" font-size="14" letter-spacing="0.09" fill="#000">: Previous</text><text x="274.8" y="255.3" font-family="'DejaVu Sans','Liberation Sans',sans-serif" font-size="14" letter-spacing="0.14" fill="#000">Following</text><path d="M158.3 240.1H170.2M167 236.4C167.6 238.4 168.8 239.7 170.4 240.1C168.8 240.5 167.6 241.8 167 243.8" stroke="#000" stroke-width="0.8" fill="none"/><path d="M254.8 251.6H267.1M263.1 248.2C263.9 250 265.3 251.2 267.3 251.6C265.3 252 263.9 253.2 263.1 255" stroke="#000" stroke-width="0.8" fill="none"/>
<g font-family="'DejaVu Sans Mono','Liberation Mono',monospace" font-size="7.03" fill="#000" stroke="#000" stroke-width="0.28" paint-order="stroke"><rect x="376.15" y="4.8" width="96.0" height="146" rx="2" fill="#fff" stroke="#000" stroke-width="1.25"/><rect x="382.1" y="7.00" width="7.4" height="7.4" rx="1" fill="#DDB3D3" stroke="none"/><text x="398.4" y="13.30">Onset-to-Normal</text><rect x="382.1" y="17.30" width="7.4" height="7.4" rx="1" fill="#DD74BD" stroke="none"/><text x="398.4" y="23.60">Reverse-to-Normal</text><rect x="382.1" y="27.60" width="7.4" height="7.4" rx="1" fill="#DBAACB" stroke="none"/><text x="398.4" y="33.90">Energy-to-Normal</text><rect x="382.1" y="37.90" width="7.4" height="7.4" rx="1" fill="#7B5CE6" stroke="none"/><text x="398.4" y="44.20">Flare-to-Normal</text><rect x="382.1" y="48.20" width="7.4" height="7.4" rx="1" fill="#E25C5C" stroke="none"/><text x="398.4" y="54.50">Normal-to-Flare</text><rect x="382.1" y="58.50" width="7.4" height="7.4" rx="1" fill="#B04048" stroke="none"/><text x="398.4" y="64.80">Energy-to-Flare</text><rect x="382.1" y="68.80" width="7.4" height="7.4" rx="1" fill="#DDC0E0" stroke="none"/><text x="398.4" y="75.10">Late-to-Jet</text><rect x="382.1" y="79.10" width="7.4" height="7.4" rx="1" fill="#DD66B5" stroke="none"/><text x="398.4" y="85.40">Normal-to-Re</text><rect x="382.1" y="89.40" width="7.4" height="7.4" rx="1" fill="#DE2E9E" stroke="none"/><text x="398.4" y="95.70">Normal-to-Jet</text><rect x="382.1" y="99.70" width="7.4" height="7.4" rx="1" fill="#12A985" stroke="none"/><text x="398.4" y="106.00">Re-to-Jet</text><rect x="382.1" y="110.00" width="7.4" height="7.4" rx="1" fill="#8877FF" stroke="none"/><text x="398.4" y="116.30">Jet-to-Re</text><rect x="382.1" y="120.30" width="7.4" height="7.4" rx="1" fill="#FF0000" stroke="none"/><text x="398.4" y="126.60">Normal-to-SNe</text><rect x="382.1" y="130.60" width="7.4" height="7.4" rx="1" fill="#0000FF" stroke="none"/><text x="398.4" y="136.90">Late-to-SNe</text><rect x="382.1" y="140.90" width="7.4" height="7.4" rx="1" fill="#008000" stroke="none"/><text x="398.4" y="147.20">Jet-to-SNe</text></g>
</svg>
</body></html>
